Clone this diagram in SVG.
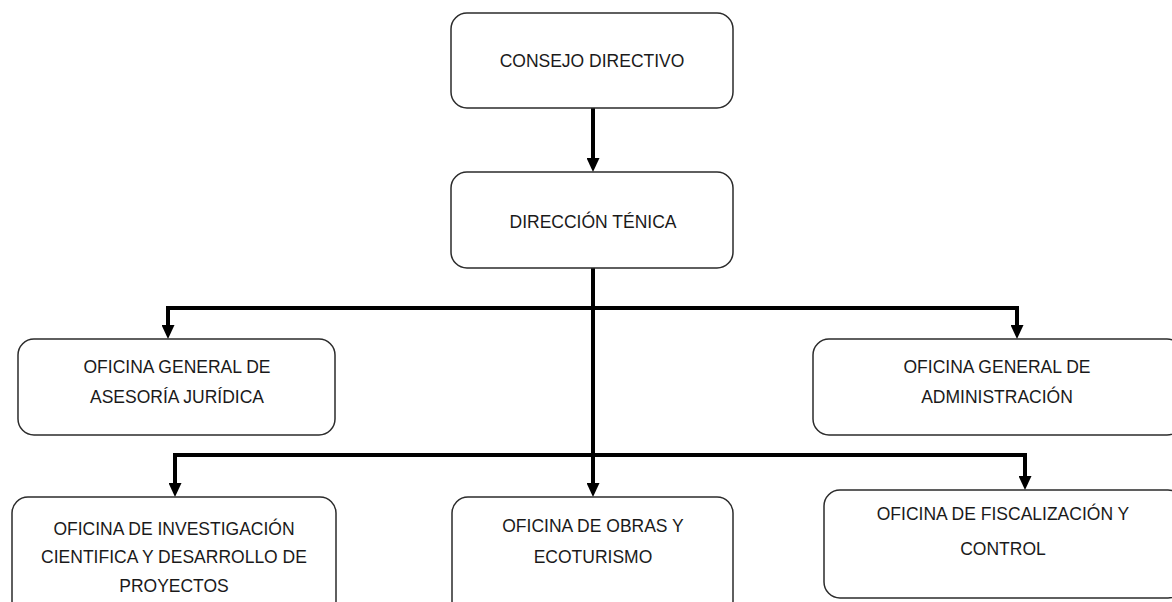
<svg xmlns="http://www.w3.org/2000/svg" width="1172" height="602" viewBox="0 0 1172 602">
<style>
.box{fill:#fff;stroke:#2b2b2b;stroke-width:1.5}
.lbl{font-family:"Liberation Sans",Arial,sans-serif;font-size:17.5px;fill:#1a1a1a;text-anchor:middle}
.con{fill:none;stroke:#000;stroke-width:4;stroke-linejoin:miter}
</style>
<defs>
<marker id="ah" viewBox="0 0 14 13" refX="0" refY="6.5" markerWidth="14" markerHeight="13" markerUnits="userSpaceOnUse" orient="auto">
<path d="M0,0 L14,6.5 L0,13 Z" fill="#000"/>
</marker>
</defs>
<rect width="1172" height="602" fill="#fff"/>
<g id="connectors">
<path class="con" d="M593,108 V158" marker-end="url(#ah)"/>
<path class="con" d="M593,268 V483" marker-end="url(#ah)"/>
<path class="con" d="M593,308 H168 V325" marker-end="url(#ah)"/>
<path class="con" d="M593,308 H1017 V325" marker-end="url(#ah)"/>
<path class="con" d="M593,455 H175 V483" marker-end="url(#ah)"/>
<path class="con" d="M593,455 H1025 V476" marker-end="url(#ah)"/>
</g>
<g id="consejo">
<rect class="box" x="451" y="13" width="282" height="95" rx="16"/>
<text class="lbl" x="592" y="67">CONSEJO DIRECTIVO</text>
</g>
<g id="direccion">
<rect class="box" x="451" y="172" width="282" height="96" rx="16"/>
<text class="lbl" x="593" y="228">DIRECCIÓN TÉNICA</text>
</g>
<g id="asesoria">
<rect class="box" x="18" y="339" width="317" height="96" rx="16"/>
<text class="lbl" x="177" y="373">OFICINA GENERAL DE</text>
<text class="lbl" x="177" y="403">ASESORÍA JURÍDICA</text>
</g>
<g id="administracion">
<rect class="box" x="813" y="339" width="370" height="96" rx="16"/>
<text class="lbl" x="997" y="373">OFICINA GENERAL DE</text>
<text class="lbl" x="997" y="403">ADMINISTRACIÓN</text>
</g>
<g id="investigacion">
<rect class="box" x="12" y="497" width="324" height="120" rx="16"/>
<text class="lbl" x="174" y="535">OFICINA DE INVESTIGACIÓN</text>
<text class="lbl" x="174" y="563">CIENTIFICA Y DESARROLLO DE</text>
<text class="lbl" x="174" y="592">PROYECTOS</text>
</g>
<g id="obras">
<rect class="box" x="452" y="497" width="281" height="120" rx="16"/>
<text class="lbl" x="593" y="532">OFICINA DE OBRAS Y</text>
<text class="lbl" x="593" y="563">ECOTURISMO</text>
</g>
<g id="fiscalizacion">
<rect class="box" x="824" y="490" width="360" height="108" rx="16"/>
<text class="lbl" x="1003" y="520">OFICINA DE FISCALIZACIÓN Y</text>
<text class="lbl" x="1003" y="555">CONTROL</text>
</g>
</svg>
